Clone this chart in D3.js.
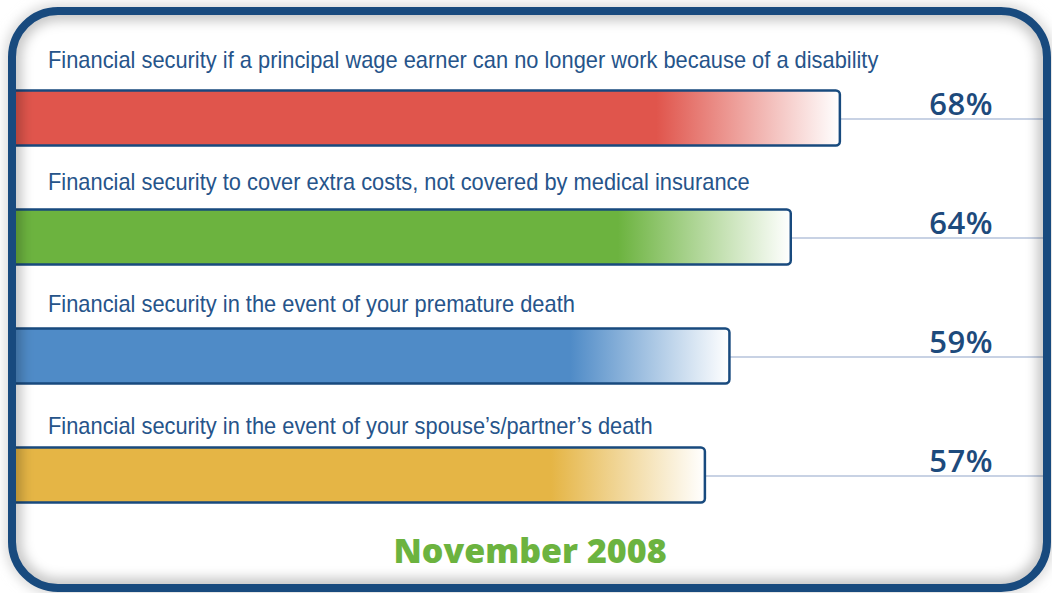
<!DOCTYPE html>
<html>
<head>
<meta charset="utf-8">
<script src="https://cdn.jsdelivr.net/npm/d3@7"></script>
<style>
  html, body { margin: 0; padding: 0; background: #fff; }
  svg { display: block; }
</style>
</head>
<body>
<svg id="chart"></svg>
<script>
// 데이터
var categories = [
  "Financial security if a principal wage earner can no longer work because of a disability",
  "Financial security to cover extra costs, not covered by medical insurance",
  "Financial security in the event of your premature death",
  "Financial security in the event of your spouse\u2019s/partner\u2019s death"
];
var values = [68, 64, 59, 57];
var barColors = ["#e0554c", "#6cb33f", "#4f8bc7", "#e5b545"];
var dateLabel = "November 2008";

var svgWidth = 1052;
var svgHeight = 593;
var navy = "#184a7e";

var svg = d3.select("#chart")
  .attr("width", svgWidth)
  .attr("height", svgHeight);

var defs = svg.append("defs");

// 프레임
var frame = { x: 12, y: 11, w: 1035, h: 577, r: 46 };

defs.append("clipPath").attr("id", "frameClip")
  .append("rect")
  .attr("x", frame.x).attr("y", frame.y)
  .attr("width", frame.w).attr("height", frame.h)
  .attr("rx", frame.r);

var blur = defs.append("filter").attr("id", "soft")
  .attr("x", "-10%").attr("y", "-10%").attr("width", "120%").attr("height", "120%");
blur.append("feGaussianBlur").attr("stdDeviation", 6);

// 막대 그라데이션
barColors.forEach(function(c, i) {
  var g = defs.append("linearGradient")
    .attr("id", "grad" + i)
    .attr("x1", 0).attr("x2", 1).attr("y1", 0).attr("y2", 0);
  g.append("stop").attr("offset", 0).attr("stop-color", c);
  g.append("stop").attr("offset", 0.78).attr("stop-color", c);
  g.append("stop").attr("offset", 1).attr("stop-color", "#ffffff");
});

// 바깥 그림자
svg.append("rect")
  .attr("x", frame.x).attr("y", frame.y)
  .attr("width", frame.w).attr("height", frame.h)
  .attr("rx", frame.r)
  .attr("fill", "none")
  .attr("stroke", "#d8d8d8")
  .attr("stroke-width", 14)
  .attr("filter", "url(#soft)");

svg.append("rect")
  .attr("x", frame.x).attr("y", frame.y)
  .attr("width", frame.w).attr("height", frame.h)
  .attr("rx", frame.r)
  .attr("fill", "#ffffff");

var inner = svg.append("g").attr("clip-path", "url(#frameClip)");

// 척도
var xScale = d3.scaleLinear()
  .domain([0, 100])
  .range([5.5, 1232.5]);

var yScale = d3.scaleBand()
  .domain(categories)
  .range([90.5, 502.5])
  .paddingInner(0.538)
  .paddingOuter(0);

// 라벨 기준선 위치
var labelScale = d3.scalePoint()
  .domain(categories)
  .range([68, 434]);

var rows = categories.map(function(c, i) {
  return { cat: c, value: values[i], idx: i };
});

// 기준선
inner.selectAll("line.guide")
  .data(rows)
  .enter()
  .append("line")
  .attr("class", "guide")
  .attr("x1", function(d) { return xScale(d.value); })
  .attr("x2", frame.x + frame.w)
  .attr("y1", function(d) { return yScale(d.cat) + yScale.bandwidth() / 2 + 1; })
  .attr("y2", function(d) { return yScale(d.cat) + yScale.bandwidth() / 2 + 1; })
  .attr("stroke", "#c8d2e4")
  .attr("stroke-width", 2);

// 막대
inner.selectAll("rect.bar")
  .data(rows)
  .enter()
  .append("rect")
  .attr("class", "bar")
  .attr("x", xScale(0))
  .attr("y", function(d) { return yScale(d.cat); })
  .attr("width", function(d) { return xScale(d.value) - xScale(0); })
  .attr("height", yScale.bandwidth())
  .attr("rx", 4)
  .attr("fill", function(d) { return "url(#grad" + d.idx + ")"; })
  .attr("stroke", navy)
  .attr("stroke-width", 2.5);

// 안쪽 그림자
inner.append("rect")
  .attr("x", frame.x).attr("y", frame.y)
  .attr("width", frame.w).attr("height", frame.h)
  .attr("rx", frame.r)
  .attr("fill", "none")
  .attr("stroke", "#000")
  .attr("stroke-opacity", 0.22)
  .attr("stroke-width", 20)
  .attr("filter", "url(#soft)");

// 라벨
inner.selectAll("text.cat")
  .data(rows)
  .enter()
  .append("text")
  .attr("class", "cat")
  .attr("transform", function(d) { return "translate(48," + labelScale(d.cat) + ") scale(0.95,1)"; })
  .attr("font-family", "'Liberation Sans', Arial, sans-serif")
  .attr("font-size", 23)
  .attr("fill", "#26548a")
  .text(function(d) { return d.cat; });

inner.selectAll("text.pct")
  .data(rows)
  .enter()
  .append("text")
  .attr("class", "pct")
  .attr("x", 993)
  .attr("y", function(d) { return yScale(d.cat) + yScale.bandwidth() / 2 - 3; })
  .attr("text-anchor", "end")
  .attr("font-family", "'Open Sans', sans-serif")
  .attr("font-weight", 600)
  .attr("font-size", 31)
  .attr("letter-spacing", 0.5)
  .attr("fill", "#1d4a7c")
  .text(function(d) { return d.value + "%"; });

inner.append("text")
  .attr("x", 530)
  .attr("y", 563)
  .attr("text-anchor", "middle")
  .attr("font-family", "'Open Sans', sans-serif")
  .attr("font-weight", 800)
  .attr("font-size", 34)
  .attr("fill", "#6cb33f")
  .text(dateLabel);

// 프레임 테두리
svg.append("rect")
  .attr("x", frame.x).attr("y", frame.y)
  .attr("width", frame.w).attr("height", frame.h)
  .attr("rx", frame.r)
  .attr("fill", "none")
  .attr("stroke", navy)
  .attr("stroke-width", 8);
</script>
</body>
</html>
